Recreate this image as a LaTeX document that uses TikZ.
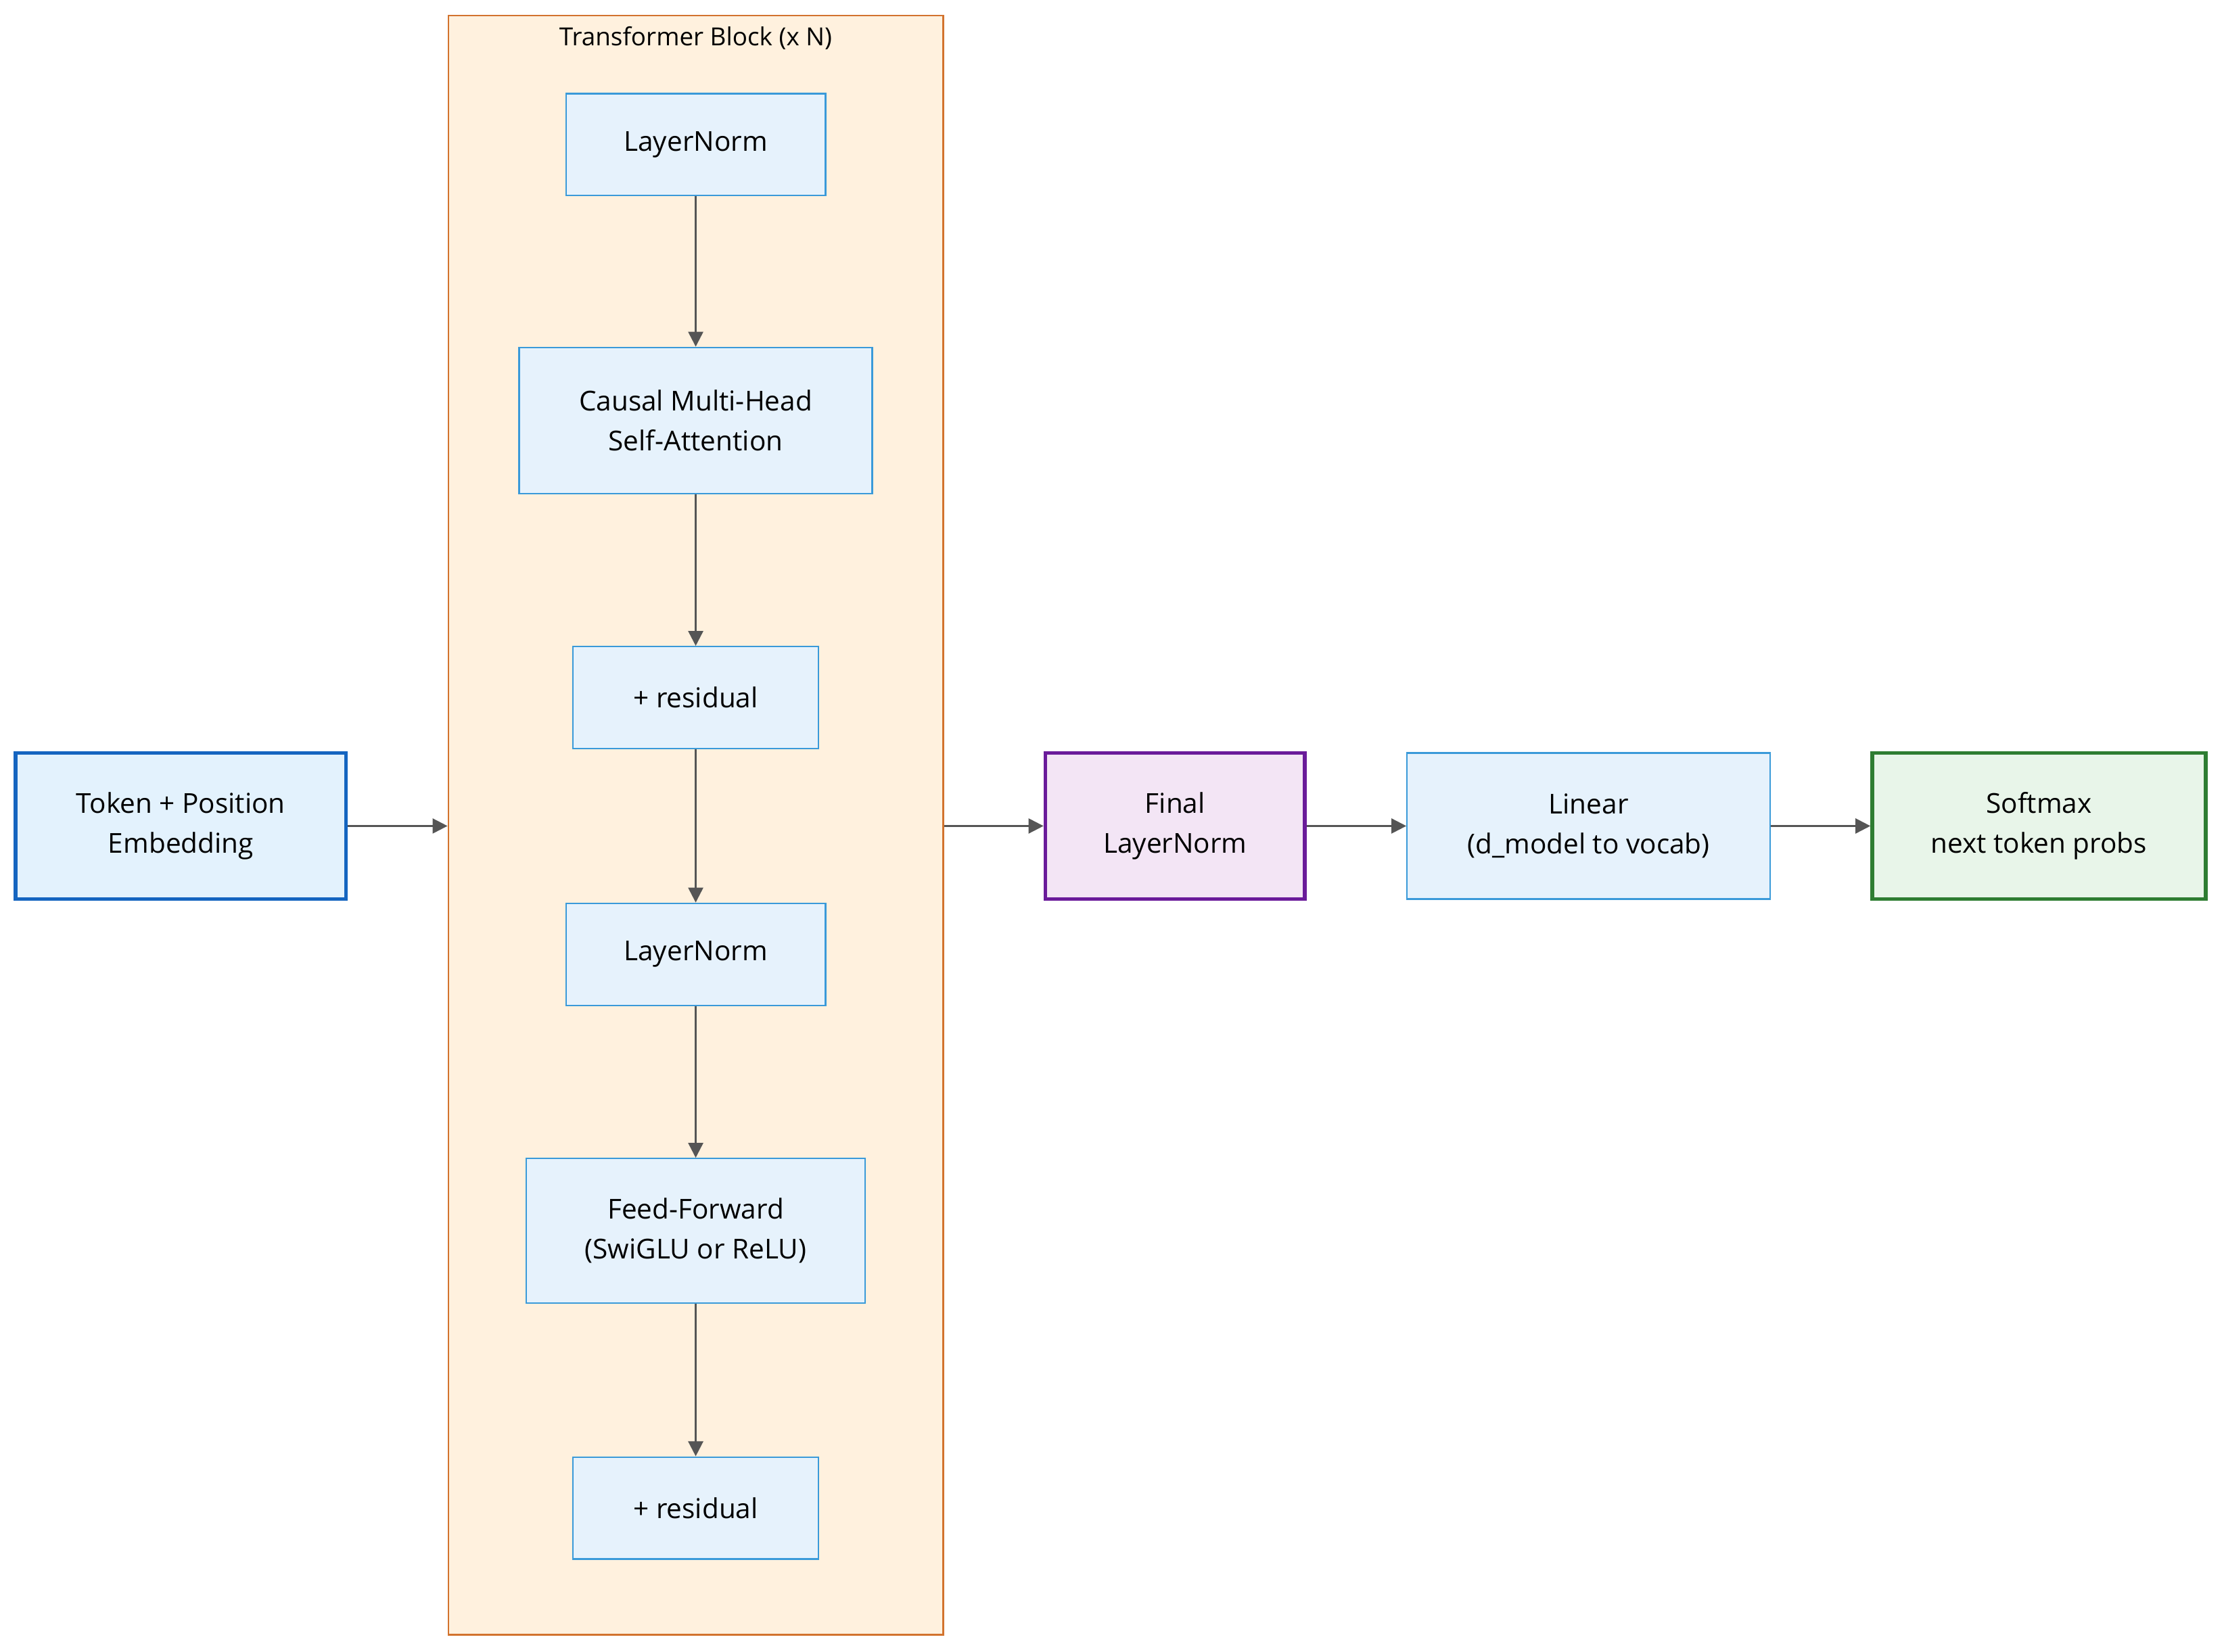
\documentclass[tikz,border=0pt]{standalone}
\usepackage{fontspec}
\setmainfont{Open Sans}
\usetikzlibrary{arrows.meta,positioning}
\definecolor{boxfill}{HTML}{E6F2FC}
\definecolor{boxline}{HTML}{3A9AD9}
\definecolor{embline}{HTML}{1565C0}
\definecolor{embfill}{HTML}{E3F2FD}
\definecolor{finline}{HTML}{6A1B9A}
\definecolor{finfill}{HTML}{F3E5F5}
\definecolor{smline}{HTML}{2E7D32}
\definecolor{smfill}{HTML}{E8F5E9}
\definecolor{clfill}{HTML}{FFF1DE}
\definecolor{clline}{HTML}{D2732E}
\definecolor{edge}{HTML}{555555}
\begin{document}
\begin{tikzpicture}
      [x=0.02cm, y=-0.02cm, font=\fontsize{11}{16}\selectfont,
       box/.style={draw=boxline, fill=boxfill, line width=0.6pt, align=center, inner sep=0pt},
       bold/.style={line width=1.5pt, align=center, inner sep=0pt},
       flow/.style={draw=edge, line width=0.7pt, -{Triangle[length=6pt,width=6pt]}}]
      \useasboundingbox (0,0) rectangle (1568,1165);

      % transformer block
      \node[draw=clline, fill=clfill, line width=0.6pt, minimum width=6.98cm,
            minimum height=22.84cm] (block) at (490.5,582) {};
      \node[font=\fontsize{10}{12}\selectfont] (title) at (490.5,27) {Transformer Block (x N)};

      \node[box, minimum width=3.66cm, minimum height=1.44cm] (ln1) at (490.5,102) {LayerNorm};
      \node[box, minimum width=4.98cm, minimum height=2.06cm] (attn) at (490.5,296.5) {Causal Multi-Head\\Self-Attention};
      \node[box, minimum width=3.46cm, minimum height=1.44cm] (res1) at (490.5,492) {+ residual};
      \node[box, minimum width=3.66cm, minimum height=1.44cm] (ln2) at (490.5,673) {LayerNorm};
      \node[box, minimum width=4.78cm, minimum height=2.04cm] (ff) at (490.5,868) {Feed-Forward\\(SwiGLU or ReLU)};
      \node[box, minimum width=3.46cm, minimum height=1.44cm] (res2) at (490.5,1063.5) {+ residual};

      % outside
      \node[bold, draw=embline, fill=embfill, minimum width=4.66cm, minimum height=2.06cm] (emb) at (127.5,582.5) {Token + Position\\Embedding};
      \node[bold, draw=finline, fill=finfill, minimum width=3.66cm, minimum height=2.06cm] (final) at (828.5,582.5) {Final\\LayerNorm};
      \node[box, minimum width=5.12cm, minimum height=2.06cm] (lin) at (1120,582.5) {Linear\\(d\_model to vocab)};
      \node[bold, draw=smline, fill=smfill, minimum width=4.70cm, minimum height=2.06cm] (soft) at (1437.5,582.5) {Softmax\\next token probs};

      \draw[flow] (ln1) -- (attn);
      \draw[flow] (attn) -- (res1);
      \draw[flow] (res1) -- (ln2);
      \draw[flow] (ln2) -- (ff);
      \draw[flow] (ff) -- (res2);
      \draw[flow] (emb) -- (block.west |- emb.east);
      \draw[flow] (block.east |- final.west) -- (final);
      \draw[flow] (final) -- (lin);
      \draw[flow] (lin) -- (soft);
\end{tikzpicture}
\end{document}
